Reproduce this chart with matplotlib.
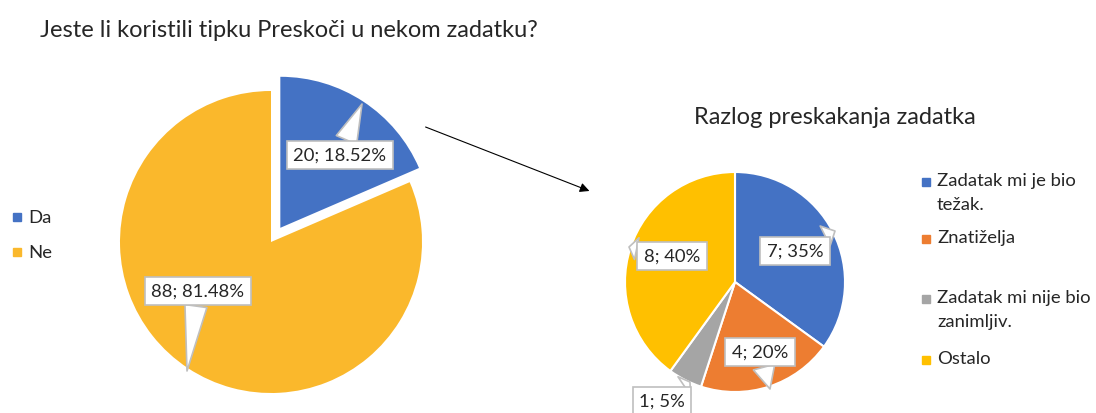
import matplotlib.pyplot as plt
from matplotlib.patches import Rectangle

plt.rcParams['font.family'] = ['Lato', 'DejaVu Sans']

# Glavno pitanje
odgovori = ['Da', 'Ne']
broj_odgovora = [20, 88]
boje_odgovora = ['#4472C4', '#FAB82C']

# Razlozi preskakanja
razlozi = ['Zadatak mi je bio\ntežak.', 'Znatiželja', 'Zadatak mi nije bio\nzanimljiv.', 'Ostalo']
broj_razloga = [7, 4, 1, 8]
boje_razloga = ['#4472C4', '#ED7D31', '#A5A5A5', '#FFC000']

W, H = 1096, 414
TXT = '#262626'


def py(y):
    # pixel y (from top) -> axes y
    return H - y


def callout(ax, text, box_xy, tip_xy):
    ax.annotate(text, xy=(tip_xy[0], py(tip_xy[1])), xytext=(box_xy[0], py(box_xy[1])),
                ha='center', va='center', fontsize=13.3, color=TXT,
                bbox=dict(boxstyle='square,pad=0.35', fc='white', ec='#BFBFBF', lw=1.2),
                arrowprops=dict(arrowstyle='wedge,tail_width=1.2,shrink_factor=0.5',
                                fc='white', ec='#BFBFBF', lw=1.2, shrinkA=0, shrinkB=0),
                zorder=5)


fig = plt.figure(figsize=(W / 100, H / 100), dpi=100)
ax = fig.add_axes([0, 0, 1, 1])

# Lijevi pie
ax.pie(broj_odgovora, colors=boje_odgovora, startangle=90, counterclock=False,
       center=(271, py(243)), radius=151, explode=[17, 0], frame=True)
ukupno = sum(broj_odgovora)
pos_lijevo = [((340, 156), (362, 105)), ((198, 292), (187, 372))]
for n, (box, tip) in zip(broj_odgovora, pos_lijevo):
    callout(ax, f'{n}; {n / ukupno * 100:.2f}%', box, tip)

# Desni pie
ax.pie(broj_razloga, colors=boje_razloga, startangle=90, counterclock=False,
       center=(735, py(283)), radius=110, frame=True,
       wedgeprops=dict(edgecolor='white', linewidth=1.5))
ukupno_r = sum(broj_razloga)
pos_desno = [((795, 252), (835, 232)), ((760, 353), (770, 390)),
             ((662, 402), (690, 383)), ((672, 257), (629, 248))]
for n, (box, tip) in zip(broj_razloga, pos_desno):
    callout(ax, f'{n}; {n / ukupno_r * 100:.0f}%', box, tip)

ax.set_xlim(0, W)
ax.set_ylim(0, H)
ax.set_aspect('equal')
ax.axis('off')

# Naslovi
ax.text(40, py(30), 'Jeste li koristili tipku Preskoči u nekom zadatku?',
        fontsize=17, color=TXT, va='center', ha='left')
ax.text(835, py(117), 'Razlog preskakanja zadatka',
        fontsize=17, color=TXT, va='center', ha='center')

# Legende
for lab, c, y in zip(odgovori, boje_odgovora, [218, 253]):
    ax.add_patch(Rectangle((13, py(y) - 4), 8, 8, color=c))
    ax.text(28, py(y), lab, fontsize=13.3, color=TXT, va='center')

leg_y = [183, 240, 300, 361]
for lab, c, y in zip(razlozi, boje_razloga, leg_y):
    ax.add_patch(Rectangle((922, py(y) - 4), 8, 8, color=c))
    ax.text(937, py(y) + 10, lab, fontsize=13.3, color=TXT, va='top',
            linespacing=1.6)

# Strelica između grafova
ax.annotate('', xy=(592, py(193)), xytext=(423, py(127)),
            arrowprops=dict(arrowstyle='-|>', color='black', lw=0.8, mutation_scale=14))

fig.savefig('out.png', dpi=100)
